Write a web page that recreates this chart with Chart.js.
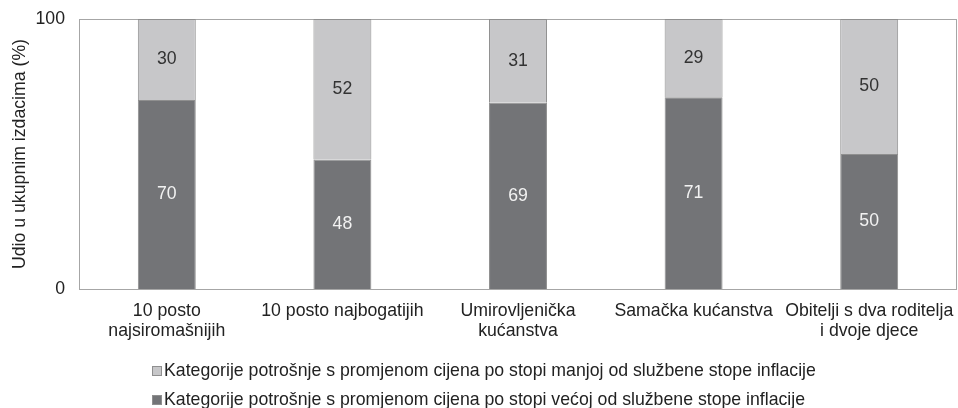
<!DOCTYPE html>
<html>
<head>
<meta charset="utf-8">
<script src="https://cdn.jsdelivr.net/npm/chart.js@4"></script>
<style>
  html, body { margin: 0; padding: 0; background: #fff; }
  #wrap { position: relative; width: 958px; height: 408px; }
  #legend { position: absolute; left: 152px; top: 356px; font: 17.7px "Liberation Sans", Arial, sans-serif; color: #222; }
  .item { height: 29px; line-height: 29px; white-space: nowrap; }
  .box { display: inline-block; width: 8px; height: 8px; border: 1px solid #8f8f8f; margin-right: 2px; vertical-align: 0px; }
</style>
</head>
<body>
<div id="wrap">
  <canvas id="chart" width="958" height="408"></canvas>
  <div id="legend"></div>
</div>
<script>
// household groups on the x axis (multi-line labels)
const categories = [
  ['10 posto', 'najsiromašnijih'],
  ['10 posto najbogatijih'],
  ['Umirovljenička', 'kućanstva'],
  ['Samačka kućanstva'],
  ['Obitelji s dva roditelja', 'i dvoje djece']
];

// share of total spending, percent
const higherThanInflation = [70, 48, 69, 71, 50];
const lowerThanInflation = [30, 52, 31, 29, 50];

const yTicks = [0, 100];

const seriesNames = [
  'Kategorije potrošnje s promjenom cijena po stopi manjoj od službene stope inflacije',
  'Kategorije potrošnje s promjenom cijena po stopi većoj od službene stope inflacije'
];

const LIGHT = '#c7c7c9';
const DARK = '#737477';
const EDGE = '#8f8f8f';
const FONT = '"Liberation Sans", Arial, sans-serif';
const FONT_SIZE = 17.7;

// box around the plot area
const frame = {
  id: 'frame',
  beforeDatasetsDraw(chart) {
    const { ctx, chartArea: a } = chart;
    ctx.save();
    ctx.strokeStyle = '#a6a6a6';
    ctx.lineWidth = 1;
    ctx.strokeRect(Math.round(a.left) + 0.5, Math.round(a.top) + 0.5,
      Math.round(a.right - a.left) - 1, Math.round(a.bottom - a.top));
    ctx.restore();
  }
};

// value labels centred in each segment
const segmentLabels = {
  id: 'segmentLabels',
  afterDatasetsDraw(chart) {
    const { ctx } = chart;
    ctx.save();
    ctx.font = FONT_SIZE + 'px ' + FONT;
    ctx.textAlign = 'center';
    ctx.textBaseline = 'middle';
    chart.data.datasets.forEach((ds, i) => {
      const meta = chart.getDatasetMeta(i);
      ctx.fillStyle = ds.labelColor;
      meta.data.forEach((bar, j) => {
        const { x, y, base } = bar.getProps(['x', 'y', 'base'], true);
        ctx.fillText(String(ds.data[j]), x, (y + base) / 2);
      });
    });
    ctx.restore();
  }
};

new Chart(document.getElementById('chart'), {
  type: 'bar',
  data: {
    labels: categories,
    datasets: [
      {
        label: seriesNames[1],
        data: higherThanInflation,
        backgroundColor: DARK,
        borderColor: EDGE,
        borderWidth: 1,
        labelColor: '#f2f2f2'
      },
      {
        label: seriesNames[0],
        data: lowerThanInflation,
        backgroundColor: LIGHT,
        borderColor: EDGE,
        borderWidth: 1,
        labelColor: '#333'
      }
    ]
  },
  options: {
    responsive: false,
    animation: false,
    layout: { padding: { top: 19, right: 1, bottom: 0, left: 0 } },
    datasets: { bar: { categoryPercentage: 1, barPercentage: 0.33 } },
    scales: {
      x: {
        stacked: true,
        afterFit: scale => {
          scale.height = 119;
          // long end labels may overhang the plot, as in the original
          scale.paddingLeft = 0;
          scale.paddingRight = 0;
        },
        grid: { display: false, drawTicks: false, tickLength: 0 },
        border: { display: false },
        ticks: {
          color: '#222',
          padding: 12,
          maxRotation: 0,
          autoSkip: false,
          font: { family: FONT, size: FONT_SIZE, lineHeight: 1.15 }
        }
      },
      y: {
        stacked: true,
        min: 0,
        max: 100,
        afterBuildTicks: scale => { scale.ticks = yTicks.map(v => ({ value: v })); },
        afterFit: scale => {
          scale.width = 79;
          scale.paddingTop = 0;
          scale.paddingBottom = 0;
        },
        grid: { display: false, drawTicks: false, tickLength: 0 },
        border: { display: false },
        ticks: {
          color: '#222',
          padding: 14,
          font: { family: FONT, size: FONT_SIZE }
        },
        title: {
          display: true,
          text: 'Udio u ukupnim izdacima (%)',
          color: '#222',
          padding: { top: 9, bottom: 0 },
          font: { family: FONT, size: FONT_SIZE }
        }
      }
    },
    plugins: {
      legend: { display: false },
      tooltip: { enabled: false }
    }
  },
  plugins: [frame, segmentLabels]
});

// legend listed top-down, light series first
const legendEl = document.getElementById('legend');
[[seriesNames[0], LIGHT], [seriesNames[1], DARK]].forEach(([name, color]) => {
  const row = document.createElement('div');
  row.className = 'item';
  const sw = document.createElement('span');
  sw.className = 'box';
  sw.style.background = color;
  row.appendChild(sw);
  row.appendChild(document.createTextNode(name));
  legendEl.appendChild(row);
});
</script>
</body>
</html>
